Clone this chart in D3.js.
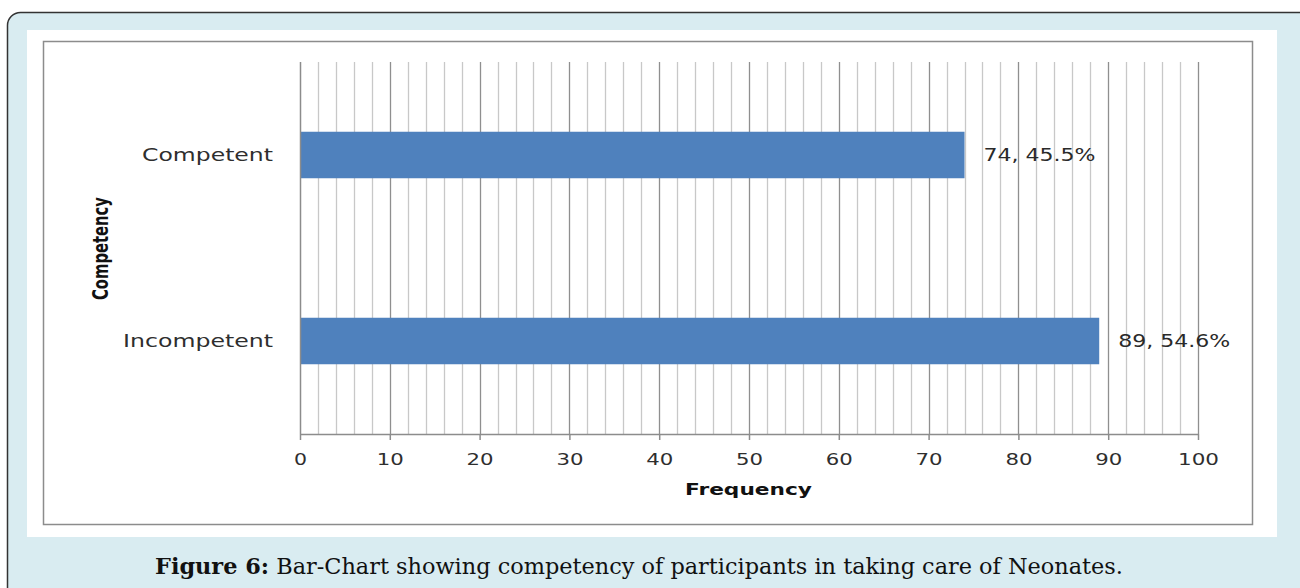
<!DOCTYPE html>
<html>
<head>
<meta charset="utf-8">
<script src="https://cdn.jsdelivr.net/npm/d3@7"></script>
<style>
  html, body { margin: 0; padding: 0; background: #ffffff; }
  svg { display: block; }
</style>
</head>
<body>
<svg id="chart" width="1300" height="588"></svg>
<script>
// Competency of participants in taking care of neonates
const categories = ["Competent", "Incompetent"];
const frequencies = [74, 89];
const percentages = ["45.5%", "54.6%"];
const xTickValues = [0, 10, 20, 30, 40, 50, 60, 70, 80, 90, 100];
const xDomain = [0, 100];
const xTitle = "Frequency";
const yTitle = "Competency";
const captionBold = "Figure 6:";
const captionText = " Bar-Chart showing competency of participants in taking care of Neonates.";

const svg = d3.select("#chart");

// framed card behind the figure
svg.append("rect")
  .attr("x", 7.5).attr("y", 12.5)
  .attr("width", 1305).attr("height", 600)
  .attr("rx", 13).attr("ry", 13)
  .attr("fill", "#d9ecf1")
  .attr("stroke", "#333333").attr("stroke-width", 1.5);

// white panel holding the chart
svg.append("rect")
  .attr("x", 27).attr("y", 30)
  .attr("width", 1250).attr("height", 507)
  .attr("fill", "#ffffff");

// chart area border
svg.append("rect")
  .attr("x", 43.5).attr("y", 41.5)
  .attr("width", 1209).attr("height", 483)
  .attr("fill", "none")
  .attr("stroke", "#8c8c8c").attr("stroke-width", 1.5);

const plot = { left: 300, right: 1198, top: 62, bottom: 434 };

const x = d3.scaleLinear().domain(xDomain).range([plot.left, plot.right]);
const y = d3.scaleBand().domain(categories)
  .range([plot.top, plot.bottom])
  .paddingInner(0.75).paddingOuter(0.375);

const sansFont = "'DejaVu Sans', Verdana, sans-serif";

// minor gridlines every 2 units, major every 10
const grid = svg.append("g");
grid.selectAll("line.minor")
  .data(x.ticks(50).filter(v => v % 10 !== 0))
  .join("line")
  .attr("class", "minor")
  .attr("x1", d => Math.round(x(d)) + 0.5).attr("x2", d => Math.round(x(d)) + 0.5)
  .attr("y1", plot.top).attr("y2", plot.bottom)
  .attr("stroke", "#c8c8c8").attr("stroke-width", 1.3);
grid.selectAll("line.major")
  .data(xTickValues.filter(v => v > 0))
  .join("line")
  .attr("class", "major")
  .attr("x1", d => Math.round(x(d)) + 0.5).attr("x2", d => Math.round(x(d)) + 0.5)
  .attr("y1", plot.top).attr("y2", plot.bottom)
  .attr("stroke", "#8f8f8f").attr("stroke-width", 1.3);

// bars
svg.append("g").selectAll("rect")
  .data(categories)
  .join("rect")
  .attr("x", x(0))
  .attr("y", d => y(d))
  .attr("width", (d, i) => x(frequencies[i]) - x(0))
  .attr("height", y.bandwidth())
  .attr("fill", "#4f81bd");

// value labels
svg.append("g").selectAll("text")
  .data(categories)
  .join("text")
  .attr("x", (d, i) => x(frequencies[i]) + 19)
  .attr("y", d => y(d) + y.bandwidth() / 2)
  .attr("dy", "0.36em")
  .attr("font-family", sansFont)
  .attr("font-size", 17)
  .attr("fill", "#2a2a2a")
  .attr("textLength", 112)
  .attr("lengthAdjust", "spacingAndGlyphs")
  .text((d, i) => `${frequencies[i]}, ${percentages[i]}`);

// x axis
const xAxis = svg.append("g")
  .attr("transform", `translate(0,${plot.bottom})`)
  .call(d3.axisBottom(x).tickValues(xTickValues).tickSize(6).tickSizeOuter(0).tickPadding(14));
xAxis.select(".domain").attr("stroke", "#8c8c8c").attr("stroke-width", 1.5);
xAxis.selectAll(".tick line").attr("stroke", "#8c8c8c").attr("stroke-width", 1.5);
xAxis.selectAll(".tick text")
  .attr("font-family", sansFont)
  .attr("font-size", 16)
  .attr("fill", "#2e2e2e")
  .attr("textLength", d => String(d).length * 14 - 1)
  .attr("lengthAdjust", "spacingAndGlyphs");

// y axis line and category labels
svg.append("line")
  .attr("x1", plot.left + 0.5).attr("x2", plot.left + 0.5)
  .attr("y1", plot.top).attr("y2", plot.bottom)
  .attr("stroke", "#8c8c8c").attr("stroke-width", 1.5);

const catWidths = { "Competent": 131, "Incompetent": 150 };
svg.append("g").selectAll("text")
  .data(categories)
  .join("text")
  .attr("x", 273)
  .attr("y", d => y(d) + y.bandwidth() / 2)
  .attr("dy", "0.36em")
  .attr("text-anchor", "end")
  .attr("font-family", sansFont)
  .attr("font-size", 17)
  .attr("fill", "#2e2e2e")
  .attr("textLength", d => catWidths[d])
  .attr("lengthAdjust", "spacingAndGlyphs")
  .text(d => d);

// axis titles
svg.append("text")
  .attr("x", 748.5).attr("y", 495)
  .attr("text-anchor", "middle")
  .attr("font-family", sansFont)
  .attr("font-weight", "bold")
  .attr("font-size", 15)
  .attr("fill", "#111111")
  .attr("textLength", 127)
  .attr("lengthAdjust", "spacingAndGlyphs")
  .text(xTitle);

svg.append("text")
  .attr("transform", "translate(108,248.5) scale(1.45,1) rotate(-90)")
  .attr("text-anchor", "middle")
  .attr("font-family", "'DejaVu Sans Condensed', 'DejaVu Sans', sans-serif")
  .attr("font-weight", "bold")
  .attr("font-size", 15)
  .attr("fill", "#111111")
  .attr("textLength", 103)
  .attr("lengthAdjust", "spacingAndGlyphs")
  .text(yTitle);

// figure caption
const caption = svg.append("text")
  .attr("x", 155).attr("y", 574)
  .attr("font-family", "'DejaVu Serif', 'Liberation Serif', serif")
  .attr("font-size", 22)
  .attr("fill", "#111111")
  .attr("textLength", 968)
  .attr("lengthAdjust", "spacingAndGlyphs");
caption.append("tspan").attr("font-weight", "bold").text(captionBold);
caption.append("tspan").text(captionText);
</script>
</body>
</html>
